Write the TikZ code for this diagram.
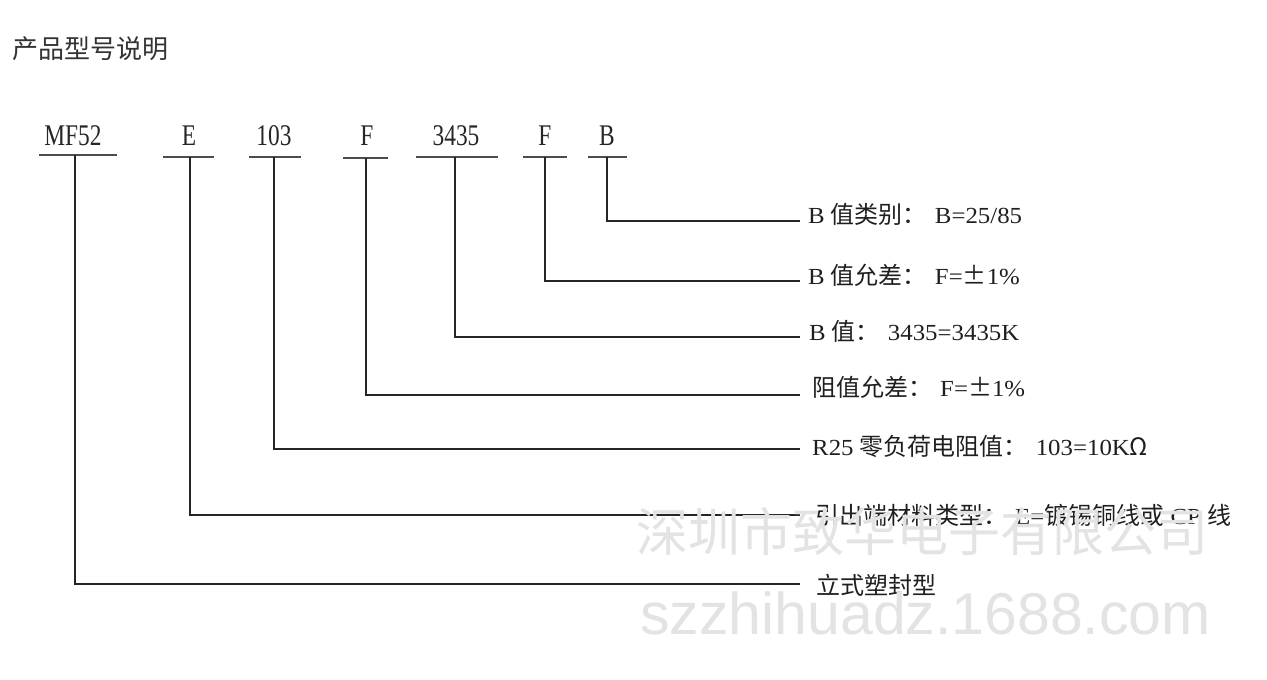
\documentclass[tikz,border=0pt]{standalone}
\usepackage{fontspec}
\setmainfont{Liberation Serif}
\newfontfamily\cjk{Noto Sans CJK SC}
\newfontfamily\codefont[FakeStretch=0.78]{Liberation Serif}
\newfontfamily\labfont[FakeStretch=1.08]{Liberation Serif}
\newfontfamily\wmfont{Liberation Sans}
\newcommand\zh[1]{{\cjk\fontsize{24}{24}\selectfont #1}}
\newcommand\colonzh{\zh{：}\hspace{8pt}}
\begin{document}
\begin{tikzpicture}[x=1pt,y=-1pt,
  codetext/.style={anchor=base, inner sep=0pt, font=\codefont\fontsize{30}{30}\selectfont, text=black!85},
  labtext/.style={anchor=base west, inner sep=0pt, font=\labfont\fontsize{23}{23}\selectfont, text=black!88},
  titletext/.style={anchor=base west, inner sep=0pt, font=\cjk\fontsize{26}{26}\selectfont, text=black!80},
  uline/.style={line width=2.6pt, black!70},
  conn/.style={line width=1.6pt, black!85},
  wmtext/.style={anchor=base west, inner sep=0pt, text=black!11}]
\useasboundingbox (0,0) rectangle (1267,680);
\fill[white] (0,0) rectangle (1267,680);

% title
\node[titletext] (title) at (12,58) {产品型号说明};

% codes
\node[codetext] (cMF) at (73,145) {MF52};
\node[codetext] (cE)  at (189,145) {E};
\node[codetext] (cR)  at (274,145) {103};
\node[codetext] (cF1) at (367,145) {F};
\node[codetext] (cB)  at (456,145) {3435};
\node[codetext] (cF2) at (545,145) {F};
\node[codetext] (cBB) at (607,145) {B};

% underlines
\coordinate (lMF) at (39,155);  \coordinate (rMF) at (117,155);
\coordinate (lE)  at (163,157); \coordinate (rE)  at (214,157);
\coordinate (lR)  at (249,157); \coordinate (rR)  at (301,157);
\coordinate (lF1) at (343,158); \coordinate (rF1) at (388,158);
\coordinate (lB)  at (416,157); \coordinate (rB)  at (498,157);
\coordinate (lF2) at (523,157); \coordinate (rF2) at (567,157);
\coordinate (lBB) at (588,157); \coordinate (rBB) at (627,157);
\foreach \n in {MF,E,R,F1,B,F2,BB} \draw[uline] (l\n) -- (r\n);

% connector start points
\coordinate (tMF) at (75,155);
\coordinate (tE)  at (190,157);
\coordinate (tR)  at (274,157);
\coordinate (tF1) at (366,158);
\coordinate (tB)  at (455,157);
\coordinate (tF2) at (545,157);
\coordinate (tBB) at (607,157);

% connector end points
\coordinate (eBB) at (800,221);
\coordinate (eF2) at (800,281);
\coordinate (eB)  at (800,337);
\coordinate (eF1) at (800,395);
\coordinate (eR)  at (800,449);
\coordinate (eE)  at (800,515);
\coordinate (eMF) at (800,584);

\foreach \n in {MF,E,R,F1,B,F2,BB} \draw[conn] (t\n) |- (e\n);

% labels
\node[labtext] (dBB) at (808,223) {B \zh{值类别}\colonzh B=25/85};
\node[labtext] (dF2) at (808,284) {B \zh{值允差}\colonzh F=\zh{±}1\%};
\node[labtext] (dB)  at (809,340) {B \zh{值}\colonzh 3435=3435K};
\node[labtext] (dF1) at (812,396) {\zh{阻值允差}\colonzh F=\zh{±}1\%};
\node[labtext] (dR)  at (812,455) {R25 \zh{零负荷电阻值}\colonzh 103=10K\zh{Ω}};
\node[labtext] (dE)  at (815,524) {\zh{引出端材料类型}\colonzh E=\zh{镀锡铜线或} CP \zh{线}};
\node[labtext] (dMF) at (816,594) {\zh{立式塑封型}};

% watermark
\node[wmtext, font=\cjk\fontsize{52}{52}\selectfont] (wm1) at (636,551) {深圳市致华电子有限公司};
\node[wmtext, font=\wmfont\fontsize{59}{59}\selectfont] (wm2) at (640,634) {szzhihuadz.1688.com};
\end{tikzpicture}
\end{document}
